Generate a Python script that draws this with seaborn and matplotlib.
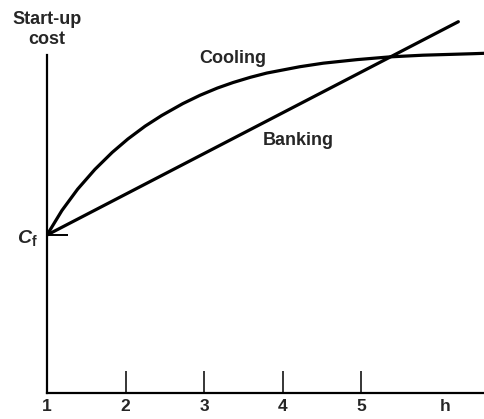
import matplotlib
matplotlib.use("Agg")
import matplotlib.pyplot as plt
import seaborn as sns
import pandas as pd

# Operating hours (h) and relative start-up cost for each strategy
cooling_h = [1.0, 1.19, 1.39, 1.61, 1.83, 2.03, 2.25, 2.46, 2.73, 2.95, 3.17,
             3.37, 3.59, 3.80, 4.01, 4.22, 4.52, 4.95, 5.37, 5.79, 6.43, 6.57]
cooling_cost = [2.00, 2.31, 2.58, 2.83, 3.045, 3.215, 3.378, 3.512, 3.663, 3.769, 3.86,
                3.93, 3.996, 4.05, 4.09, 4.13, 4.175, 4.22, 4.255, 4.276, 4.295, 4.30]
banking_h = [1.0, 6.24]
banking_cost = [2.0, 4.70]

tick_pos = [1, 2, 3, 4, 5, 6.07]
tick_labels = ["1", "2", "3", "4", "5", "h"]
cf_level = 2.0

sns.set_style("white")
plt.rcParams["font.family"] = ["Liberation Sans", "DejaVu Sans"]
plt.rcParams["font.weight"] = "bold"
plt.rcParams["mathtext.fontset"] = "custom"
plt.rcParams["mathtext.it"] = "Liberation Sans:italic:bold"
plt.rcParams["mathtext.rm"] = "Liberation Sans:bold"

df = pd.concat([
    pd.DataFrame({"h": cooling_h, "cost": cooling_cost, "mode": "Cooling"}),
    pd.DataFrame({"h": banking_h, "cost": banking_cost, "mode": "Banking"}),
])

fig = plt.figure(figsize=(4.84, 4.19), dpi=100)
ax = fig.add_axes([47 / 484, 26 / 419, 437 / 484, 393 / 419])

sns.lineplot(data=df, x="h", y="cost", units="mode", estimator=None,
             color="black", linewidth=2.3, sort=False, ax=ax, legend=False)

ax.set_xlim(1, 1 + 437 / 78.5)
ax.set_ylim(0, 393 / 79)

for side in ["top", "right"]:
    ax.spines[side].set_visible(False)
for side in ["left", "bottom"]:
    ax.spines[side].set_color("black")
    ax.spines[side].set_linewidth(1.6)
ax.spines["left"].set_bounds(0, 4.28)

ax.set_xticks(tick_pos)
ax.set_xticklabels(tick_labels, fontsize=12.5, fontweight="bold")
ax.tick_params(axis="x", bottom=True, direction="in", length=16, width=1.1,
               pad=4, color="black")
ticks = ax.xaxis.get_major_ticks()
ticks[0].tick1line.set_visible(False)
ticks[-1].tick1line.set_visible(False)

ax.set_yticks([cf_level])
ax.set_yticklabels([r"$C_\mathrm{f}$"], fontsize=14)
ax.tick_params(axis="y", left=True, direction="in", length=15, width=1.4,
               pad=7, color="black")

ax.set_xlabel("")
ax.set_ylabel("")
ax.grid(False)

fig.text(47 / 484, 1 - 19 / 419, "Start-up", ha="center", va="center",
         fontsize=13, fontweight="bold")
fig.text(47 / 484, 1 - 40 / 419, "cost", ha="center", va="center",
         fontsize=13, fontweight="bold")
ax.text(3.36, 4.24, "Cooling", ha="center", va="center", fontsize=13, fontweight="bold")
ax.text(4.20, 3.20, "Banking", ha="center", va="center", fontsize=13, fontweight="bold")

fig.savefig("out.png", dpi=100, facecolor="white")
